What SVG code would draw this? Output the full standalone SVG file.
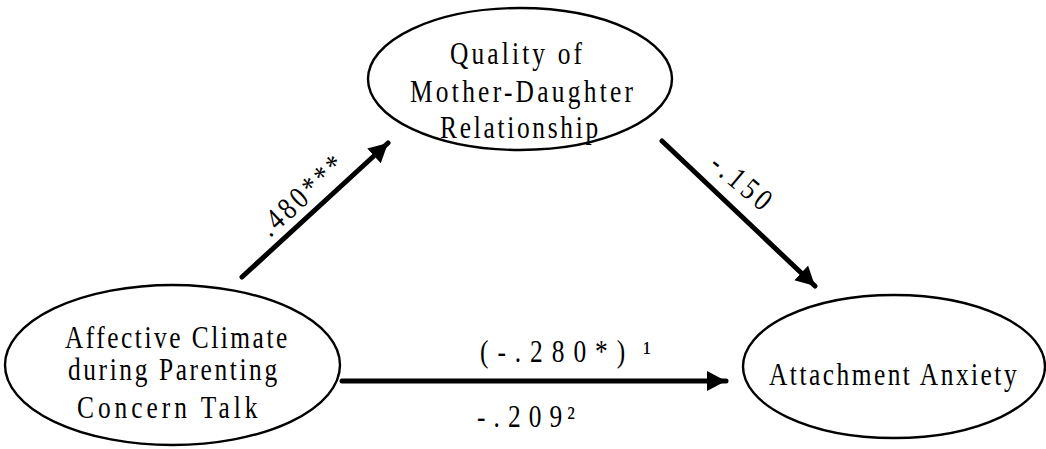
<svg xmlns="http://www.w3.org/2000/svg" width="1046" height="449" viewBox="0 0 1046 449">
<style>
.node ellipse{fill:#fff;stroke:#000;stroke-width:2.4}
text{font-family:"Liberation Serif","Times New Roman",serif;font-size:31px;fill:#000}
.edge{stroke:#000;stroke-width:5;fill:none;stroke-linecap:round}
</style>
<defs>
<marker id="ah" markerUnits="userSpaceOnUse" markerWidth="22" markerHeight="22" refX="19" refY="10" orient="auto">
<path d="M0,0 L19,10 L0,20 z" fill="#000"/>
</marker>
</defs>
<rect width="1046" height="449" fill="#fff"/>
<g id="edges">
<line class="edge" x1="242" y1="277" x2="388" y2="143" marker-end="url(#ah)"/>
<line class="edge" x1="662" y1="141" x2="815" y2="286" marker-end="url(#ah)"/>
<line class="edge" x1="342" y1="381" x2="726" y2="381" marker-end="url(#ah)"/>
<text transform="translate(270,238) rotate(-42.5) scale(0.82,1)" textLength="126" lengthAdjust="spacing">.480***</text>
<text transform="translate(708,167) rotate(40) scale(0.82,1)" textLength="85" lengthAdjust="spacing">-.150</text>
<text transform="translate(480,362) scale(0.82,1)"><tspan textLength="177" lengthAdjust="spacing">(-.280*)</tspan><tspan x="199">¹</tspan></text>
<text transform="translate(477,427) scale(0.82,1)"><tspan textLength="104" lengthAdjust="spacing">-.209</tspan><tspan x="110">²</tspan></text>
</g>
<g id="node-quality" class="node">
<ellipse cx="520" cy="79" rx="152" ry="71"/>
<text transform="translate(450,64) scale(0.82,1)" textLength="161" lengthAdjust="spacing">Quality of</text>
<text transform="translate(410,102) scale(0.82,1)" textLength="272" lengthAdjust="spacing">Mother-Daughter</text>
<text transform="translate(440,138) scale(0.82,1)" textLength="193" lengthAdjust="spacing">Relationship</text>
</g>
<g id="node-affective" class="node">
<ellipse cx="172.5" cy="365" rx="167.5" ry="80"/>
<text transform="translate(65,348) scale(0.82,1)" textLength="271" lengthAdjust="spacing">Affective Climate</text>
<text transform="translate(68,380) scale(0.82,1)" textLength="255" lengthAdjust="spacing">during Parenting</text>
<text transform="translate(77,418) scale(0.82,1)" textLength="220" lengthAdjust="spacing">Concern Talk</text>
</g>
<g id="node-anxiety" class="node">
<ellipse cx="894" cy="366.5" rx="151" ry="71.5"/>
<text transform="translate(769,385) scale(0.82,1)" textLength="302" lengthAdjust="spacing">Attachment Anxiety</text>
</g>
</svg>
